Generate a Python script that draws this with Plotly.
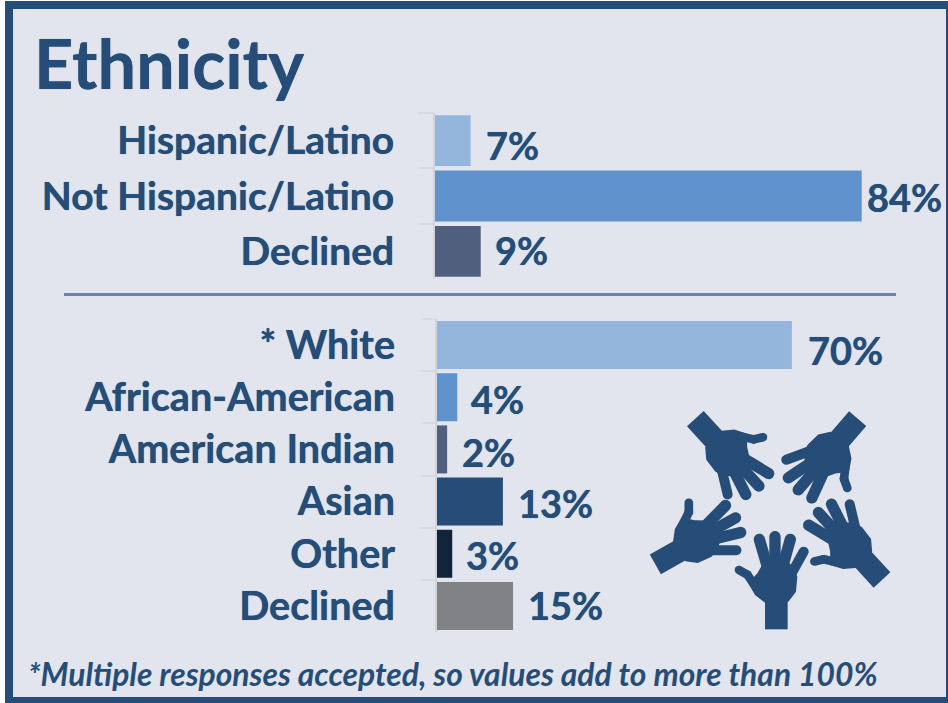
import numpy as np
import plotly.graph_objects as go

W, H = 948, 703
TXT = "#264d78"
BG = "#e2e5ed"
FONT = "Lato"
BOLDER = f"0 0 0.7px {TXT}"

top_cats = ["Hispanic/Latino", "Not Hispanic/Latino", "Declined"]
top_vals = [7, 84, 9]
top_cols = ["#95b6dc", "#6093cd", "#505f7e"]
top_label_dx = [13, 3, 12]
top_label_dy = [-4, -1, 1]
bot_cats = ["* White", "African-American", "American Indian", "Asian", "Other", "Declined"]
bot_vals = [70, 4, 2, 13, 3, 15]
bot_cols = ["#95b6dc", "#6093cd", "#505f7e", "#264d78", "#10243c", "#808285"]
bot_label_dx = [14, 12, 13, 13, 12, 13]
bot_label_dy = [-5, -2, -3, -1, -1, 1]
title_text = "Ethnicity"
note_text = "*Multiple responses accepted, so values add to more than 100%"


def px(x):
    return x / W


def py(y):
    return 1 - y / H


fig = go.Figure()
fig.add_trace(go.Bar(y=top_cats, x=top_vals, orientation="h", marker=dict(color=top_cols, line_width=0),
                     width=0.92, xaxis="x", yaxis="y", showlegend=False))
fig.add_trace(go.Bar(y=bot_cats, x=bot_vals, orientation="h", marker=dict(color=bot_cols, line_width=0),
                     width=0.92, xaxis="x2", yaxis="y2", showlegend=False))

anns = []
for cats, vals, dxs, dys, xa, ya in [(top_cats, top_vals, top_label_dx, top_label_dy, "x", "y"),
                                     (bot_cats, bot_vals, bot_label_dx, bot_label_dy, "x2", "y2")]:
    for c, v, dx, dy in zip(cats, vals, dxs, dys):
        anns.append(dict(x=v, y=c, xref=xa, yref=ya, text=f"{v}%", showarrow=False, xanchor="left",
                         xshift=dx, yshift=dy,
                         font=dict(family=FONT, size=38, color=TXT, weight="bold", shadow=BOLDER)))
anns.append(dict(x=px(32), y=py(63), xref="paper", yref="paper", text=title_text, showarrow=False,
                 xanchor="left", yanchor="middle",
                 font=dict(family=FONT, size=68.5, color=TXT, weight="bold", shadow=BOLDER)))
anns.append(dict(x=px(26), y=py(674), xref="paper", yref="paper", text=f"<i>{note_text}</i>", showarrow=False,
                 xanchor="left", yanchor="middle",
                 font=dict(family=FONT, size=31.8, color=TXT, weight="bold")))


# icon: one hand in local pixels, relative to the end of the wrist, placed five times
def capsule(p0, p1, w, n=10):
    p0, p1 = np.array(p0, float), np.array(p1, float)
    a = np.arctan2(*(p1 - p0)[::-1])
    t = np.linspace(-np.pi / 2, np.pi / 2, n)
    cap1 = np.c_[np.cos(a + t), np.sin(a + t)] * w / 2 + p1
    cap0 = np.c_[np.cos(a + np.pi + t), np.sin(a + np.pi + t)] * w / 2 + p0
    return np.vstack([cap1, cap0])


wrist = (409, 688)
parts = [
    np.array([[375, 688], [443, 688], [443, 595], [375, 595]], float),
    np.array([[352, 520], [375, 480], [440, 480], [462, 505], [472, 530], [468, 575], [445, 605],
              [375, 608], [345, 585], [325, 550]], float),
    capsule((297, 510), (322, 524), 26),
    capsule((322, 524), (350, 565), 26),
    capsule((358, 418), (382, 500), 34),
    capsule((405, 410), (405, 500), 34),
    capsule((451, 418), (428, 500), 34),
    capsule((491, 455), (452, 525), 30),
]
placements = [
    ((409, 688), 0.0),
    ((46, 493), 60.7),
    ((166, 56), 137.5),
    ((653, 56), 220.7),
    ((726, 540), 317.5),
]
shapes = []
# frame and separator
shapes.append(dict(type="rect", xref="paper", yref="paper", x0=px(9), x1=px(950), y0=py(5), y1=py(701),
                   line=dict(color=TXT, width=8), fillcolor=BG, layer="below"))
shapes.append(dict(type="line", xref="paper", yref="paper", x0=px(64), x1=px(896), y0=py(294.5), y1=py(294.5),
                   line=dict(color="#6f82a8", width=3)))
for (cx, cy), deg in placements:
    r = np.radians(deg)
    R = np.array([[np.cos(r), -np.sin(r)], [np.sin(r), np.cos(r)]])
    for p in parts:
        q = (p - np.array(wrist)) @ R.T + np.array([cx, cy])
        q = q / 3 + np.array([640, 400])
        d = "M" + "L".join(f"{px(a):.5f},{py(b):.5f}" for a, b in q) + "Z"
        shapes.append(dict(type="path", path=d, xref="paper", yref="paper", fillcolor=TXT, line_width=0,
                           layer="above"))

yax = dict(showgrid=False, zeroline=False, showline=True, linecolor="#d2d4da", linewidth=2,
           ticks="outside", ticklen=14, tickcolor="#d9dae0", tickwidth=2,
           tickson="boundaries", type="category")
xax = dict(visible=False, range=[0, 100], fixedrange=True)

fig.update_layout(
    width=W, height=H, margin=dict(l=0, r=0, t=0, b=0), autosize=False,
    paper_bgcolor="white", plot_bgcolor="rgba(0,0,0,0)", showlegend=False,
    xaxis=dict(xax, domain=[px(435), px(435 + 508)], anchor="y"),
    xaxis2=dict(xax, domain=[px(437), px(437 + 507)], anchor="y2"),
    yaxis=dict(yax, domain=[py(279), py(113)], anchor="x", range=[2.5, -0.5], ticklabelstandoff=31,
               tickfont=dict(family=FONT, size=39, color=TXT, weight="bold", shadow=BOLDER)),
    yaxis2=dict(yax, domain=[py(632), py(319)], anchor="x2", range=[5.5, -0.5], ticklabelstandoff=32,
                tickfont=dict(family=FONT, size=39.6, color=TXT, weight="bold", shadow=BOLDER)),
    annotations=anns, shapes=shapes,
)
fig.write_html("out.html", post_script="document.body.style.margin='0';document.body.style.background='white';",
               config={"displayModeBar": False})
